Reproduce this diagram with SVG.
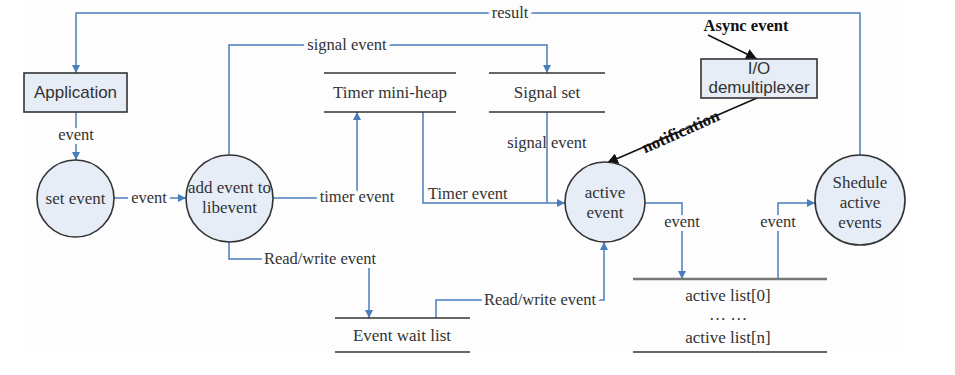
<svg xmlns="http://www.w3.org/2000/svg" width="955" height="375" viewBox="0 0 955 375">
  <style>
    .flow { fill: none; stroke: #4a7ebb; stroke-width: 1.5; }
    .ink { fill: none; stroke: #111; stroke-width: 1.5; }
    .node { fill: #e6edf7; stroke: #333; stroke-width: 1.6; }
    .store { stroke: #333; stroke-width: 1.6; }
    .lbl { font-family: "Liberation Serif", "Times New Roman", serif; font-size: 16.5px; fill: #333; text-anchor: middle; }
    .gap { paint-order: stroke; stroke: #fdfdfd; stroke-width: 8px; stroke-linejoin: round; }
    .ntext { font-family: "Liberation Serif", "Times New Roman", serif; font-size: 17px; fill: #333; text-anchor: middle; }
    .stext { font-family: "Liberation Sans", Arial, sans-serif; font-size: 17px; fill: #333; text-anchor: middle; }
    .bold { font-family: "Liberation Serif", "Times New Roman", serif; font-weight: bold; font-size: 16.5px; fill: #111; text-anchor: middle; }
  </style>
  <defs>
    <marker id="blue" viewBox="0 0 10 10" refX="10" refY="5" markerWidth="8" markerHeight="8" markerUnits="userSpaceOnUse" orient="auto">
      <path d="M0,0 L10,5 L0,10 z" fill="#4a7ebb"/>
    </marker>
    <marker id="black" viewBox="0 0 10 10" refX="10" refY="5" markerWidth="11" markerHeight="11" markerUnits="userSpaceOnUse" orient="auto">
      <path d="M0,0 L10,5 L0,10 z" fill="#111"/>
    </marker>
  </defs>

  <rect x="0" y="0" width="955" height="375" fill="#ffffff"/>
  <rect x="23" y="0" width="880" height="352" fill="#fdfdfd"/>

  <g id="connectors">
    <!-- result: Shedule -> Application -->
    <path class="flow" d="M860,155 V13 H76 V73" marker-end="url(#blue)"/>
    <text class="lbl gap" x="510" y="18">result</text>
    <!-- Application -> set event -->
    <path class="flow" d="M76,112 V160" marker-end="url(#blue)"/>
    <text class="lbl gap" x="76" y="140">event</text>
    <!-- set event -> add event -->
    <path class="flow" d="M114,198 H186" marker-end="url(#blue)"/>
    <text class="lbl gap" x="149" y="203">event</text>
    <!-- add event -> Signal set -->
    <path class="flow" d="M229,155 V45 H547 V73" marker-end="url(#blue)"/>
    <text class="lbl gap" x="347" y="50">signal event</text>
    <!-- add event -> Timer mini-heap -->
    <path class="flow" d="M273,198 H357 V112" marker-end="url(#blue)"/>
    <text class="lbl gap" x="357" y="202">timer event</text>
    <!-- Timer mini-heap -> active event -->
    <path class="flow" d="M423,112 V203 H565" marker-end="url(#blue)"/>
    <text class="lbl" x="428" y="199" style="text-anchor:start">Timer event</text>
    <!-- Signal set -> active event -->
    <path class="flow" d="M547,112 V203"/>
    <text class="lbl" x="547" y="148">signal event</text>
    <!-- add event -> Event wait list -->
    <path class="flow" d="M229,242 V259 H369 V318" marker-end="url(#blue)"/>
    <text class="lbl gap" x="320" y="264">Read/write event</text>
    <!-- Event wait list -> active event -->
    <path class="flow" d="M436,318 V300 H604 V242" marker-end="url(#blue)"/>
    <text class="lbl gap" x="540" y="305">Read/write event</text>
    <!-- active event -> active list -->
    <path class="flow" d="M645,203 H682 V279" marker-end="url(#blue)"/>
    <text class="lbl gap" x="682" y="227">event</text>
    <!-- active list -> Shedule -->
    <path class="flow" d="M778,279 V203 H815" marker-end="url(#blue)"/>
    <text class="lbl gap" x="778" y="227">event</text>
    <!-- Async event -> I/O demultiplexer -->
    <path class="ink" d="M708,35 L757,59" stroke-width="2" marker-end="url(#black)"/>
    <!-- I/O demultiplexer -> active event -->
    <path class="ink" d="M757,98 L607,163" marker-end="url(#black)"/>
    <text class="bold" x="681" y="137" transform="rotate(-24 681 132)" style="font-size:17px">notification</text>
  </g>

  <g id="application">
    <rect class="node" x="24" y="73" width="103" height="39"/>
    <text class="stext" x="75.5" y="98">Application</text>
  </g>

  <g id="set-event">
    <circle class="node" cx="75.5" cy="198.5" r="38.5"/>
    <text class="ntext" x="75.5" y="204">set event</text>
  </g>

  <g id="add-event">
    <circle class="node" cx="229.5" cy="198.5" r="43.5"/>
    <text class="ntext" x="229.5" y="193">add event to</text>
    <text class="ntext" x="229.5" y="213">libevent</text>
  </g>

  <g id="timer-mini-heap">
    <line class="store" x1="324" y1="73" x2="456" y2="73"/>
    <line class="store" x1="324" y1="112" x2="456" y2="112"/>
    <text class="lbl" x="390" y="98" style="font-size:17px">Timer mini-heap</text>
  </g>

  <g id="signal-set">
    <line class="store" x1="489" y1="73" x2="605" y2="73"/>
    <line class="store" x1="489" y1="112" x2="605" y2="112"/>
    <text class="lbl" x="547" y="98" style="font-size:17px">Signal set</text>
  </g>

  <g id="async-event">
    <text class="bold" x="746" y="31">Async event</text>
  </g>

  <g id="io-demultiplexer">
    <rect class="node" x="701" y="59" width="116" height="39"/>
    <text class="stext" x="759" y="74">I/O</text>
    <text class="stext" x="759" y="93">demultiplexer</text>
  </g>

  <g id="active-event">
    <circle class="node" cx="605" cy="202" r="40"/>
    <text class="ntext" x="605" y="198">active</text>
    <text class="ntext" x="605" y="218">event</text>
  </g>

  <g id="shedule">
    <circle class="node" cx="860" cy="200" r="45"/>
    <text class="ntext" x="860" y="188">Shedule</text>
    <text class="ntext" x="860" y="208">active</text>
    <text class="ntext" x="860" y="228">events</text>
  </g>

  <g id="event-wait-list">
    <line class="store" x1="335" y1="318" x2="470" y2="318"/>
    <line class="store" x1="335" y1="352" x2="470" y2="352"/>
    <text class="lbl" x="402" y="341" style="font-size:17px">Event wait list</text>
  </g>

  <g id="active-list">
    <line x1="633" y1="279" x2="827" y2="279" stroke="#777" stroke-width="2.5"/>
    <line class="store" x1="633" y1="352" x2="827" y2="352"/>
    <text class="lbl" x="728" y="301" style="font-size:17px">active list[0]</text>
    <text class="lbl" x="728" y="320" style="font-size:17px">… …</text>
    <text class="lbl" x="728" y="343" style="font-size:17px">active list[n]</text>
  </g>
</svg>
